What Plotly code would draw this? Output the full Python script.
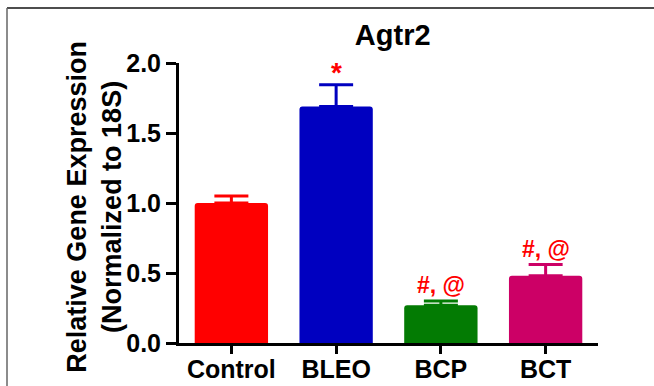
import plotly.graph_objects as go

categories = ["Control", "BLEO", "BCP", "BCT"]
values = [1.0, 1.69, 0.27, 0.48]
errors = [0.05, 0.155, 0.03, 0.08]
colors = ["#FF0000", "#0000C0", "#037B03", "#CC0066"]
sig_labels = ["", "*", "#, @", "#, @"]
y_ticks = [0.0, 0.5, 1.0, 1.5, 2.0]

FONT = "Liberation Sans, Arial, sans-serif"

fig = go.Figure()
for c, v, e, col in zip(categories, values, errors, colors):
    fig.add_trace(go.Bar(
        x=[c], y=[v],
        marker=dict(color=col, line=dict(width=0)),
        error_y=dict(type="data", array=[e], arrayminus=[0], symmetric=False,
                     color=col, thickness=3, width=17),
        width=0.7, showlegend=False,
    ))

for c, v, e, lab in zip(categories, values, errors, sig_labels):
    if not lab:
        continue
    fig.add_annotation(
        x=c, y=v + e, xref="x", yref="y", text=lab,
        showarrow=False, yanchor="bottom", yshift=(-5 if lab == "*" else 1),
        font=dict(family=FONT, size=(28 if lab == "*" else 23), color="#FF0000",
                  weight="bold"),
    )

fig.add_annotation(
    x=-0.201, y=0.486, xref="paper", yref="paper",
    text="Relative Gene Expression<br>(Normalized to 18S)",
    textangle=-90, showarrow=False, xanchor="center", yanchor="middle",
    font=dict(family=FONT, size=27, color="black", weight="bold"),
)

# outer frame (top and left edges visible in the picture)
fx0 = -172 / 419
fy1 = 1 + 55 / 280
fig.add_shape(type="line", xref="paper", yref="paper",
              x0=fx0, x1=1.2, y0=fy1, y1=fy1,
              line=dict(color="#4d4d4d", width=2))
fig.add_shape(type="line", xref="paper", yref="paper",
              x0=fx0, x1=fx0, y0=-0.2, y1=fy1,
              line=dict(color="#666666", width=1.5))

fig.update_layout(
    width=654, height=386,
    margin=dict(l=179, r=56, t=63, b=43, autoexpand=False),
    paper_bgcolor="white", plot_bgcolor="white",
    showlegend=False,
    barmode="overlay",
    barcornerradius=3,
    title=dict(text="Agtr2", x=0.51, xanchor="center", xref="paper",
               y=1 - 35 / 386, yanchor="middle", yref="container",
               font=dict(family=FONT, size=29, color="black", weight="bold")),
    xaxis=dict(
        range=[-0.5, 3.5], showline=True, linecolor="black", linewidth=3,
        ticks="outside", ticklen=8, tickwidth=2.5, tickcolor="black",
        showgrid=False, zeroline=False, automargin=False,
        ticklabelstandoff=-6,
        tickfont=dict(family=FONT, size=25, color="black", weight="bold"),
    ),
    yaxis=dict(
        range=[0, 2], showline=True, linecolor="black", linewidth=3,
        tickvals=y_ticks, tickformat=".1f",
        ticks="outside", ticklen=10, tickwidth=2.5, tickcolor="black",
        showgrid=False, zeroline=False, automargin=False,
        tickfont=dict(family=FONT, size=25, color="black", weight="bold"),
    ),
)

fig.write_html(
    "out.html",
    config={"displayModeBar": False},
    post_script="document.body.style.margin='0px';document.body.style.overflow='hidden';",
)
